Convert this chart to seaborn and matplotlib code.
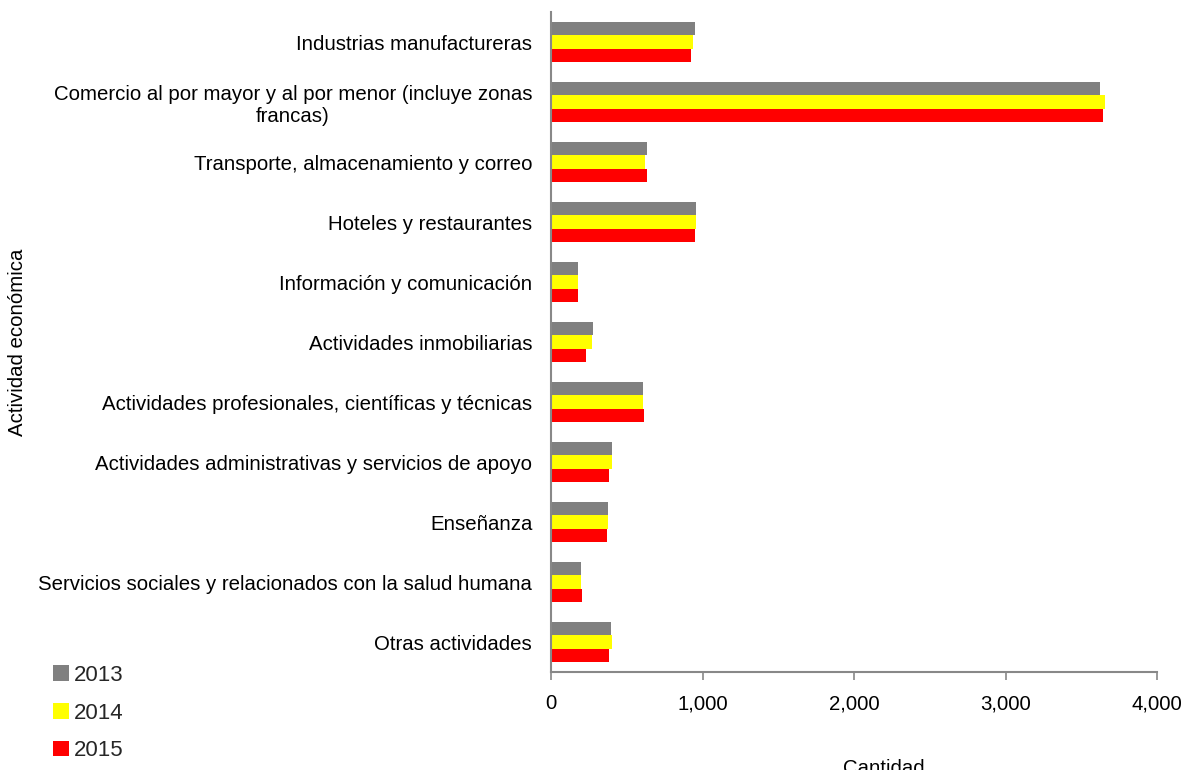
import matplotlib
matplotlib.use("Agg")
import matplotlib.pyplot as plt
import seaborn as sns
import pandas as pd
from matplotlib.ticker import FuncFormatter
from matplotlib.patches import Patch

categories = [
    "Industrias manufactureras",
    "Comercio al por mayor y al por menor (incluye zonas\nfrancas)",
    "Transporte, almacenamiento y correo",
    "Hoteles y restaurantes",
    "Información y comunicación",
    "Actividades inmobiliarias",
    "Actividades profesionales, científicas y técnicas",
    "Actividades administrativas y servicios de apoyo",
    "Enseñanza",
    "Servicios sociales y relacionados con la salud humana",
    "Otras actividades",
]
years = ["2013", "2014", "2015"]
v2013 = [950, 3622, 632, 955, 180, 279, 607, 405, 376, 198, 398]
v2014 = [939, 3657, 622, 956, 176, 269, 609, 400, 374, 198, 400]
v2015 = [926, 3641, 632, 952, 180, 233, 614, 381, 372, 202, 380]
colors = ["#808080", "#FFFF00", "#FF0000"]

rows = []
for y, vals in zip(years, [v2013, v2014, v2015]):
    for c, v in zip(categories, vals):
        rows.append({"cat": c, "year": y, "val": v})
df = pd.DataFrame(rows)

sns.set_theme(style="white")
plt.rcParams["font.family"] = ["Liberation Sans", "DejaVu Sans"]

FS = 14.7
fig = plt.figure(figsize=(11.87, 7.70), dpi=100)
ax = fig.add_axes([551/1187, 1 - 672/770, (1157-551)/1187, (672-12)/770])
sns.barplot(data=df, y="cat", x="val", hue="year", order=categories,
            hue_order=years, palette=colors, orient="h", width=0.67,
            ax=ax, legend=False, saturation=1, edgecolor="none", linewidth=0)

ax.set_xlim(0, 4000)
ax.set_ylim(len(categories) - 0.5, -0.5)
ax.set_xticks([0, 1000, 2000, 3000, 4000])
ax.xaxis.set_major_formatter(FuncFormatter(lambda x, p: f"{int(x):,}"))
for s in ["top", "right"]:
    ax.spines[s].set_visible(False)
for s in ["left", "bottom"]:
    ax.spines[s].set_color("#888888")
    ax.spines[s].set_linewidth(1.5)
ax.tick_params(axis="x", which="both", bottom=True, length=6, width=1.2,
               color="#888888", labelsize=FS, pad=10, labelcolor="black")
ax.tick_params(axis="y", left=False, length=0, labelsize=FS, pad=13.5, labelcolor="black")
for lab in ax.get_yticklabels():
    lab.set_multialignment("center")

ax.set_xlabel("Cantidad", fontsize=FS, color="black")
ax.xaxis.set_label_coords((884-551)/(1157-551), -(768-672)/660)
ax.xaxis.label.set_va("center")
ax.set_ylabel("Actividad económica", fontsize=FS, color="black")
ax.yaxis.set_label_coords(-(551-18)/606, 0.5)
ax.yaxis.label.set_va("center")

handles = [Patch(facecolor=c, edgecolor="none") for c in colors]
fig.legend(handles, years, loc="upper left", bbox_to_anchor=(33/1187, 1 - 645/770),
           frameon=False, fontsize=16, handlelength=0.7, handleheight=0.7,
           handletextpad=0.25, labelspacing=0.75)

fig.savefig("out.png", dpi=100)
